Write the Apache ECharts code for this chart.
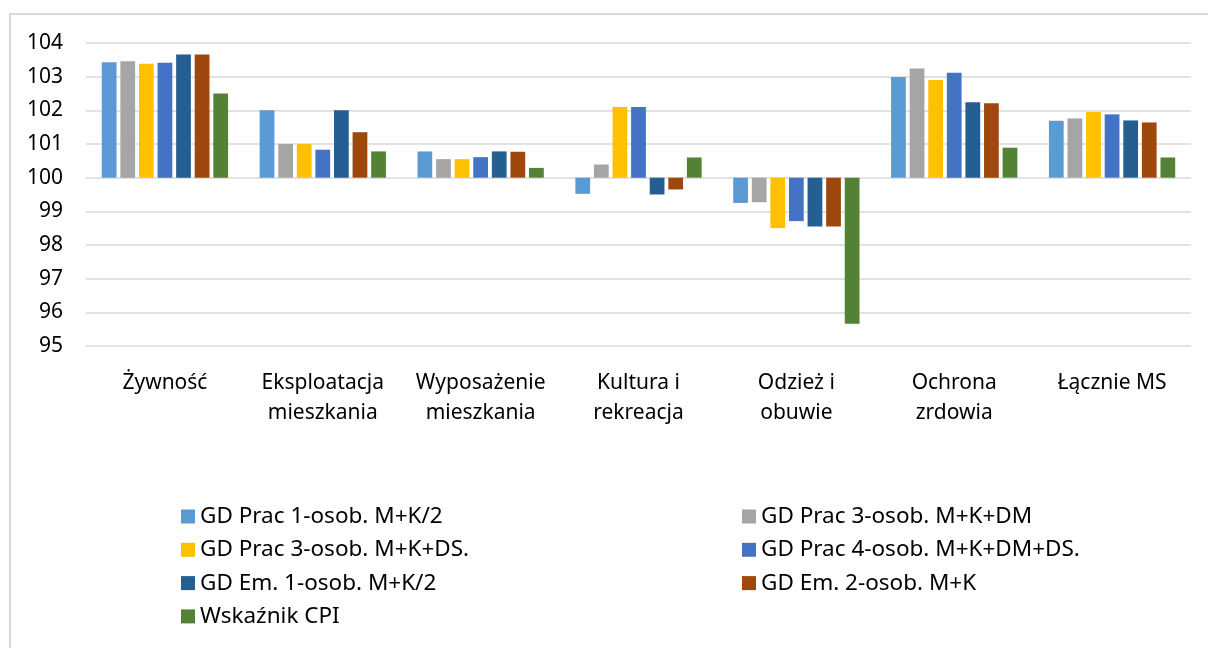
<!DOCTYPE html>
<html>
<head>
<meta charset="utf-8">
<style>
  html, body { margin: 0; padding: 0; background: #fff; }
  #main { width: 1208px; height: 648px; }
</style>
<script src="https://cdn.jsdelivr.net/npm/echarts@6/dist/echarts.min.js"></script>
</head>
<body>
<div id="main"></div>
<script>
// kategorie wydatków
var categories = ["Żywność", "Eksploatacja\nmieszkania", "Wyposażenie\nmieszkania", "Kultura i\nrekreacja", "Odzież i\nobuwie", "Ochrona\nzrdowia", "Łącznie MS"];

// wskaźniki (poprzedni rok = 100)
var prac1 = [103.43, 102.0, 100.78, 99.52, 99.25, 102.99, 101.69];
var prac3dm = [103.46, 101.0, 100.55, 100.39, 99.27, 103.24, 101.76];
var prac3ds = [103.38, 101.0, 100.55, 102.10, 98.50, 102.90, 101.95];
var prac4 = [103.41, 100.83, 100.61, 102.10, 98.71, 103.12, 101.88];
var em1 = [103.66, 102.0, 100.78, 99.50, 98.55, 102.24, 101.70];
var em2 = [103.66, 101.35, 100.77, 99.65, 98.55, 102.21, 101.64];
var cpi = [102.50, 100.78, 100.29, 100.60, 95.66, 100.89, 100.60];

var seriesNames = ["GD Prac 1-osob. M+K/2", "GD Prac 3-osob. M+K+DM", "GD Prac 3-osob. M+K+DS.", "GD Prac 4-osob. M+K+DM+DS.", "GD Em. 1-osob. M+K/2", "GD Em. 2-osob. M+K", "Wskaźnik CPI"];
var seriesData = [prac1, prac3dm, prac3ds, prac4, em1, em2, cpi];
var colors = ["#5b9bd5", "#a5a5a5", "#ffc000", "#4472c4", "#255e91", "#9e480e", "#548235"];

var baseLine = 100; // oś pozioma przecina się przy 100
var font = "Noto Sans";

var myChart = echarts.init(document.getElementById("main"));

var series = seriesData.map(function (arr, i) {
  return {
    name: seriesNames[i],
    type: "bar",
    barGap: "26%",
    barCategoryGap: "20%",
    itemStyle: { color: colors[i] },
    data: arr.map(function (v) { return +(v - baseLine).toFixed(2); })
  };
});

function legendCol(names, left) {
  return {
    orient: "vertical",
    left: left,
    top: 505,
    padding: 0,
    itemWidth: 14,
    itemHeight: 14,
    itemGap: 10.3,
    icon: "rect",
    textStyle: { fontFamily: font, fontSize: 22.5, lineHeight: 20, color: "#000" },
    data: names
  };
}

myChart.setOption({
  animation: false,
  color: colors,
  graphic: [{
    type: "rect",
    shape: { x: 10, y: 14, width: 1220, height: 700 },
    style: { fill: "none", stroke: "#d9d9d9", lineWidth: 2 },
    silent: true
  }],
  legend: [
    legendCol([seriesNames[0], seriesNames[2], seriesNames[4], seriesNames[6]], 181),
    legendCol([seriesNames[1], seriesNames[3], seriesNames[5]], 742)
  ],
  grid: { left: 86, right: 17, top: 43, bottom: 302, containLabel: false },
  xAxis: {
    type: "category",
    data: categories,
    axisLine: { show: false, onZero: false },
    axisTick: { show: false },
    axisLabel: {
      interval: 0,
      margin: 22,
      fontFamily: font,
      fontSize: 21,
      lineHeight: 30,
      color: "#000"
    }
  },
  yAxis: {
    type: "value",
    min: -5,
    max: 4,
    interval: 1,
    axisLine: { show: false },
    axisTick: { show: false },
    splitLine: { lineStyle: { color: "#d9d9d9", width: 1.5 } },
    axisLabel: {
      margin: 23,
      fontFamily: font,
      fontSize: 21,
      color: "#000",
      formatter: function (v) { return v + baseLine; }
    }
  },
  series: series
});
</script>
</body>
</html>
